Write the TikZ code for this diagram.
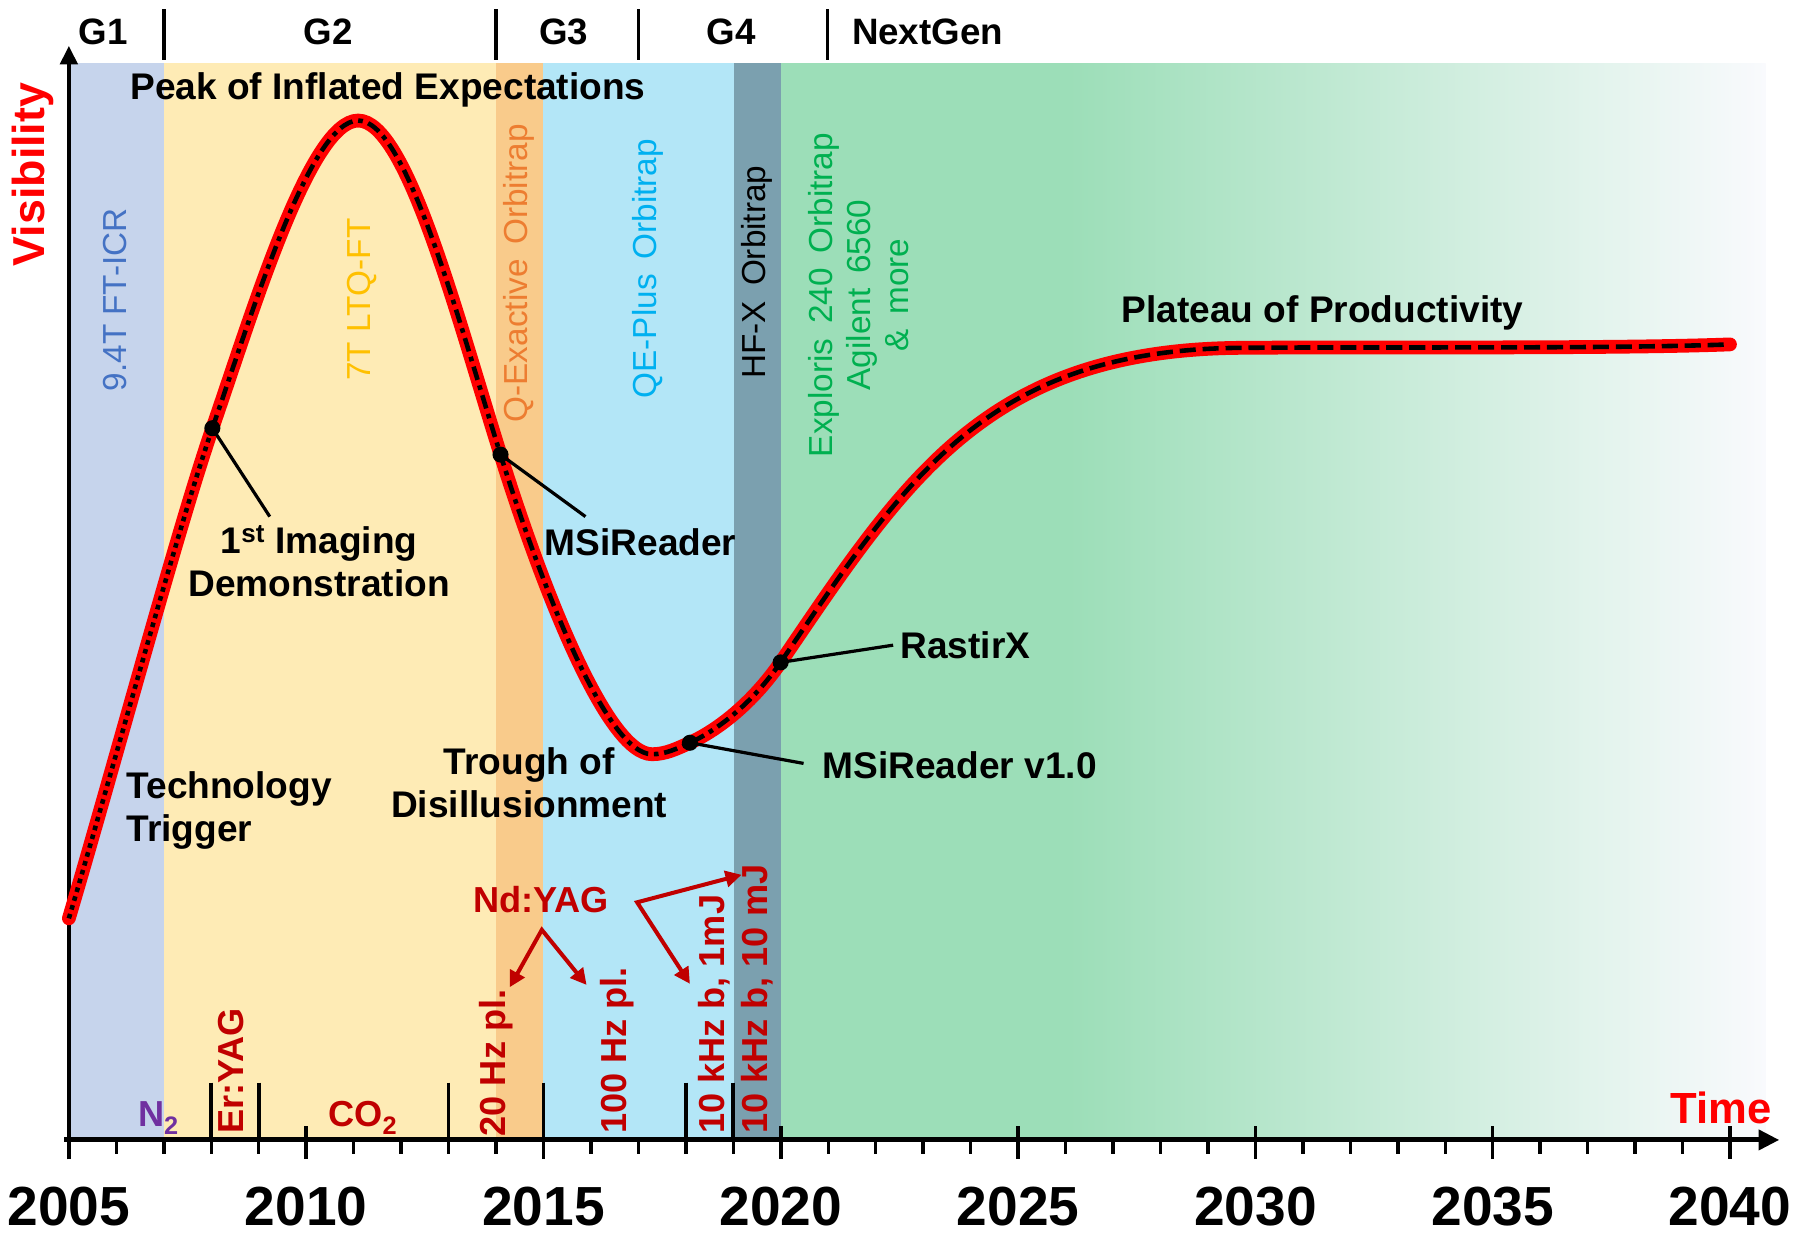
\documentclass[tikz,border=0pt]{standalone}
\usepackage{fontspec}
\setmainfont{Liberation Sans}
\usetikzlibrary{arrows.meta}
\definecolor{cGa}{HTML}{C6D4EC}
\definecolor{cGb}{HTML}{FEEBB5}
\definecolor{cQE}{HTML}{F9CB8B}
\definecolor{cGc}{HTML}{B3E6F7}
\definecolor{cHF}{HTML}{7BA0AF}
\definecolor{cNG}{HTML}{9CDEB8}
\definecolor{cEnd}{HTML}{F9FAFD}
\definecolor{tBlue}{HTML}{4472C4}
\definecolor{tGold}{HTML}{FFC000}
\definecolor{tOrange}{HTML}{ED7D31}
\definecolor{tCyan}{HTML}{00B0F0}
\definecolor{tGreen}{HTML}{00B050}
\definecolor{tDark}{HTML}{C00000}
\definecolor{tPurple}{HTML}{7030A0}
\definecolor{tRed}{HTML}{FF0000}
\newcommand{\wsp}{\hspace{0.45em}}
\begin{document}
\begin{tikzpicture}[x=1pt,y=-1pt,
  lab/.style={font=\bfseries\fontsize{32.3}{38}\selectfont, inner sep=0pt, align=center},
  gen/.style={font=\bfseries\fontsize{32}{34}\selectfont, inner sep=0pt},
  yearlab/.style={font=\bfseries\fontsize{48}{52}\selectfont, inner sep=0pt},
  band/.style={font=\fontsize{29}{33}\selectfont, rotate=90, inner sep=0pt},
  laser/.style={font=\bfseries\fontsize{31.5}{36}\selectfont, text=tDark, rotate=90, anchor=west, inner sep=0pt},
  lbl/.style={font=\bfseries\fontsize{31.5}{36}\selectfont, inner sep=0pt},
  dotnode/.style={circle, fill=black, minimum size=14pt, inner sep=0pt},
  leader/.style={draw=black, line width=2.8pt},
  redc/.style={draw=tRed, line width=12pt, line cap=round},
  blk/.style={draw=black, line width=4pt},
  redarrow/.style={draw=tDark, line width=3.5pt, line join=miter, {Triangle[length=14pt,width=14pt]}-{Triangle[length=14pt,width=14pt]}},
  tk/.style={draw=black, line width=3pt}
]
\useasboundingbox (0,0) rectangle (1568,1077);
\fill[white] (0,0) rectangle (1568,1077);
% bands
\fill[cGa] (60,55) rectangle (143,993);
\fill[cGb] (143,55) rectangle (432,993);
\fill[cQE] (432,55) rectangle (473,993);
\fill[cGc] (473,55) rectangle (639,993);
\fill[cHF] (639,55) rectangle (680,993);
\fill[cNG] (680,55) rectangle (932,993);
\shade[left color=cNG, right color=cEnd] (931,55) rectangle (1538,993);
% generation dividers and labels
\foreach \x in {143,432,556,721} \draw[tk] (\x,8) -- (\x,52);
\node[gen] (g1) at (90,28) {G1};
\node[gen] (g2) at (286,28) {G2};
\node[gen] (g3) at (491,28) {G3};
\node[gen] (g4) at (637,28) {G4};
\node[gen] (gn) at (808,28) {NextGen};
% ticks
\foreach \i in {0,...,35} \draw[tk] ({60+\i*41.343},993) -- ++(0,12);
\foreach \i in {0,5,...,35} \draw[tk] ({60+\i*41.343},981) -- ++(0,29);
\foreach \i in {3,4,8,10,13,14} \draw[tk, line width=3.3pt] ({60+\i*41.343},943) -- ++(0,50);
\foreach \i in {0,...,7} {
  \pgfmathtruncatemacro\yr{2005+5*\i}
  \node[yearlab] (yr\i) at ({60+\i*206.714},1051) {\yr};
}
% axes
\coordinate (xo) at (56,993); \coordinate (xe) at (1550,993);
\draw[line width=4.4pt, -{Triangle[length=18pt,width=17pt]}] (xo) -- (xe);
\coordinate (yo) at (60,1010); \coordinate (ye) at (60,40);
\draw[line width=3.5pt, -{Triangle[length=16pt,width=15pt]}] (yo) -- (ye);
% curve points
\coordinate (c0) at (60,800);
\coordinate (c1) at (185,373);
\coordinate (c2) at (312,105);
\coordinate (c3) at (436,396);
\coordinate (c4) at (568,657);
\coordinate (c5) at (601,647);
\coordinate (c6) at (680,577);
\coordinate (c7) at (1080,303);
\coordinate (c8) at (1507,300);
\draw[redc] (c0) .. controls (100,665) and (155,460) .. (c1)
  .. controls (220,272) and (270,105) .. (c2)
  .. controls (354,105) and (397,272) .. (c3)
  .. controls (471,508) and (528,657) .. (c4)
  .. controls (580,657) and (590,652) .. (c5)
  .. controls (625,636) and (655,613) .. (c6)
  .. controls (790,415) and (860,305) .. (c7)
  .. controls (1200,302) and (1400,304) .. (c8);
\draw[blk, dash pattern=on 4pt off 4pt] (c0) .. controls (100,665) and (155,460) .. (c1);
\draw[blk, dash pattern=on 12pt off 5pt on 4pt off 5pt] (c1)
  .. controls (220,272) and (270,105) .. (c2)
  .. controls (354,105) and (397,272) .. (c3)
  .. controls (471,508) and (528,657) .. (c4)
  .. controls (580,657) and (590,652) .. (c5)
  .. controls (625,636) and (655,613) .. (c6);
\draw[blk, dash pattern=on 14pt off 6pt] (c6)
  .. controls (790,415) and (860,305) .. (c7)
  .. controls (1200,302) and (1400,304) .. (c8);
% leaders and dots
\coordinate (e1) at (235,450);
\coordinate (e2) at (510,450);
\coordinate (e3) at (700,665);
\coordinate (e4) at (778,562);
\draw[leader] (c1) -- (e1);
\draw[leader] (c3) -- (e2);
\draw[leader] (c5) -- (e3);
\draw[leader] (c6) -- (e4);
\node[dotnode] (p1) at (c1) {};
\node[dotnode] (p2) at (c3) {};
\node[dotnode] (p3) at (c5) {};
\node[dotnode] (p4) at (c6) {};
% labels
\node[lab] (peak) at (338,78) {Peak of Inflated Expectations};
\node[lab] (imaging) at (278,489) {1\textsuperscript{st} Imaging\\Demonstration};
\node[lab] (msir) at (558,472) {MSiReader};
\node[lab, align=left, anchor=west] (trigger) at (110,706) {Technology\\Trigger};
\node[lab] (trough) at (461,682) {Trough of\\Disillusionment};
\node[lab] (rastirx) at (841,562) {RastirX};
\node[lab] (msirone) at (836,667) {MSiReader v1.0};
\node[lab] (plateau) at (1152,273) {Plateau of Productivity};
\node[font=\bfseries\fontsize{39}{42}\selectfont, text=tRed, rotate=90, inner sep=0pt] (vis) at (29,152) {Visibility};
\node[font=\bfseries\fontsize{38}{42}\selectfont, text=tRed, inner sep=0pt] (time) at (1499,965) {Time};
% instrument labels
\node[band, text=tBlue] (fticr) at (100,261) {9.4T FT-ICR};
\node[band, text=tGold] (ltq) at (315,261) {7T LTQ-FT};
\node[band, text=tOrange] (qe) at (452,238) {Q-Exactive\wsp Orbitrap};
\node[band, text=tCyan] (qep) at (564,234) {QE-Plus\wsp Orbitrap};
\node[band, text=black] (hfx) at (659,237) {HF-X\wsp Orbitrap};
\node[band, text=tGreen, align=center] (expl) at (748,257) {Exploris\wsp 240\wsp Orbitrap\\Agilent\wsp 6560\\\&\wsp more};
% lasers
\node[lbl, text=tPurple, anchor=base] (ntwo) at (138,981) {N\textsubscript{2}};
\node[lbl, text=tDark, anchor=base] (cotwo) at (316,981) {CO\textsubscript{2}};
\node[laser] (eryag) at (201,988) {Er:YAG};
\node[laser] (hzt) at (432,990) {20 Hz pl.};
\node[laser] (hzh) at (538,988) {100 Hz pl.};
\node[laser] (khza) at (622,988) {10 kHz b, 1mJ};
\node[laser] (khzb) at (660,988) {10 kHz b, 10 mJ};
\node[lbl, text=tDark] (ndyag) at (471,784) {Nd:YAG};
\coordinate (a1) at (472,810); \coordinate (a1l) at (444,860); \coordinate (a1r) at (511,858);
\coordinate (a2) at (555,786); \coordinate (a2u) at (646,762); \coordinate (a2d) at (601,857);
\draw[redarrow] (a1l) -- (a1) -- (a1r);
\draw[redarrow] (a2d) -- (a2) -- (a2u);
\end{tikzpicture}
\end{document}
